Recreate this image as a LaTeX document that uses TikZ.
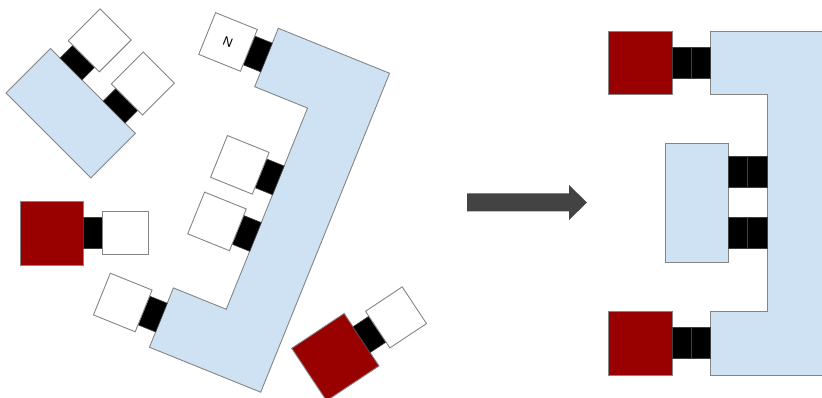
\documentclass[tikz,border=0pt]{standalone}
\usepackage{fontspec}
\setsansfont{Liberation Sans}
\usetikzlibrary{positioning}

\definecolor{boardblue}{HTML}{CFE2F3}
\definecolor{blockred}{HTML}{990000}
\definecolor{edgegray}{HTML}{858585}
\definecolor{arrowgray}{HTML}{434343}

\begin{document}
\begin{tikzpicture}[x=1pt, y=-1pt,
        board/.style={draw=edgegray, line width=0.9pt, fill=boardblue},
        block/.style={draw=edgegray, line width=0.9pt, fill=blockred},
        plug/.style={draw=black!75, line width=0.6pt, fill=black},
        socket/.style={draw=edgegray, line width=0.9pt, fill=white}]
    \useasboundingbox (0,0) rectangle (822,398);
    \clip (0,0) rectangle (822,398);

    % loose board with two plugs
    \begin{scope}[shift={(6,93)}, rotate=45]
        \draw[board] (0,0) rectangle (63,120);
        \foreach \y in {29,90} {
            \draw[plug] (63,\y-15.5) rectangle ++(18,31);
            \draw[socket] (81,\y-22) rectangle ++(45,44);
        }
    \end{scope}

    % red block, straight
    \draw[block] (20,201) rectangle (83,265);
    \draw[plug] (83,217) rectangle (102,248);
    \draw[socket] (102,211) rectangle (148,254);

    % frame, turned
    \begin{scope}[shift={(278.3,28.3)}, rotate=-22]
        \draw[board] (0,0) -- (120,0) -- (120,344) -- (0,344) -- (0,280) -- (57,280)
            -- (57,63) -- (0,63) -- cycle;
        \draw[plug] (-19,16) rectangle (0,47);
        \draw[socket] (-64,9) rectangle (-19,54);
        \node[transform shape, font=\sffamily\fontsize{13}{13}\selectfont] (north) at (-41.5,31.5) {N};
        \foreach \y in {141,202} {
            \draw[plug] (38,\y-15.5) rectangle ++(19,31);
            \draw[socket] (-7,\y-22.5) rectangle ++(45,45);
        }
        \draw[plug] (-19,296.5) rectangle (0,327.5);
        \draw[socket] (-64,290) rectangle (-19,335);
    \end{scope}

    % red block, turned
    \begin{scope}[shift={(291.7,348.3)}, rotate=33.6]
        \draw[block] (0,0) rectangle (63,63);
        \draw[plug] (63,16) rectangle (82,47);
        \draw[socket] (82,10) rectangle (126,54);
    \end{scope}

    % arrow
    \fill[arrowgray] (467,193.5) -- (569,193.5) -- (569,185) -- (587,202.5)
        -- (569,220) -- (569,211.5) -- (467,211.5) -- cycle;

    % assembled
    \begin{scope}[shift={(710,31)}]
        \draw[board] (0,0) -- (120,0) -- (120,344) -- (0,344) -- (0,280) -- (57,280)
            -- (57,63) -- (0,63) -- cycle;
        \draw[block] (-102,0) rectangle (-38,63);
        \draw[block] (-102,280) rectangle (-38,344);
        \foreach \y in {31.5,312} {
            \draw[plug] (-38,\y-15.5) rectangle (-19,\y+15.5);
            \draw[plug] (-19,\y-15.5) rectangle (0,\y+15.5);
        }
        \draw[board] (-45,112) rectangle (18,231);
        \foreach \y in {141,202} {
            \draw[plug] (18,\y-15.5) rectangle (37.3,\y+15.5);
            \draw[plug] (37.3,\y-15.5) rectangle (57,\y+15.5);
        }
    \end{scope}
\end{tikzpicture}
\end{document}
